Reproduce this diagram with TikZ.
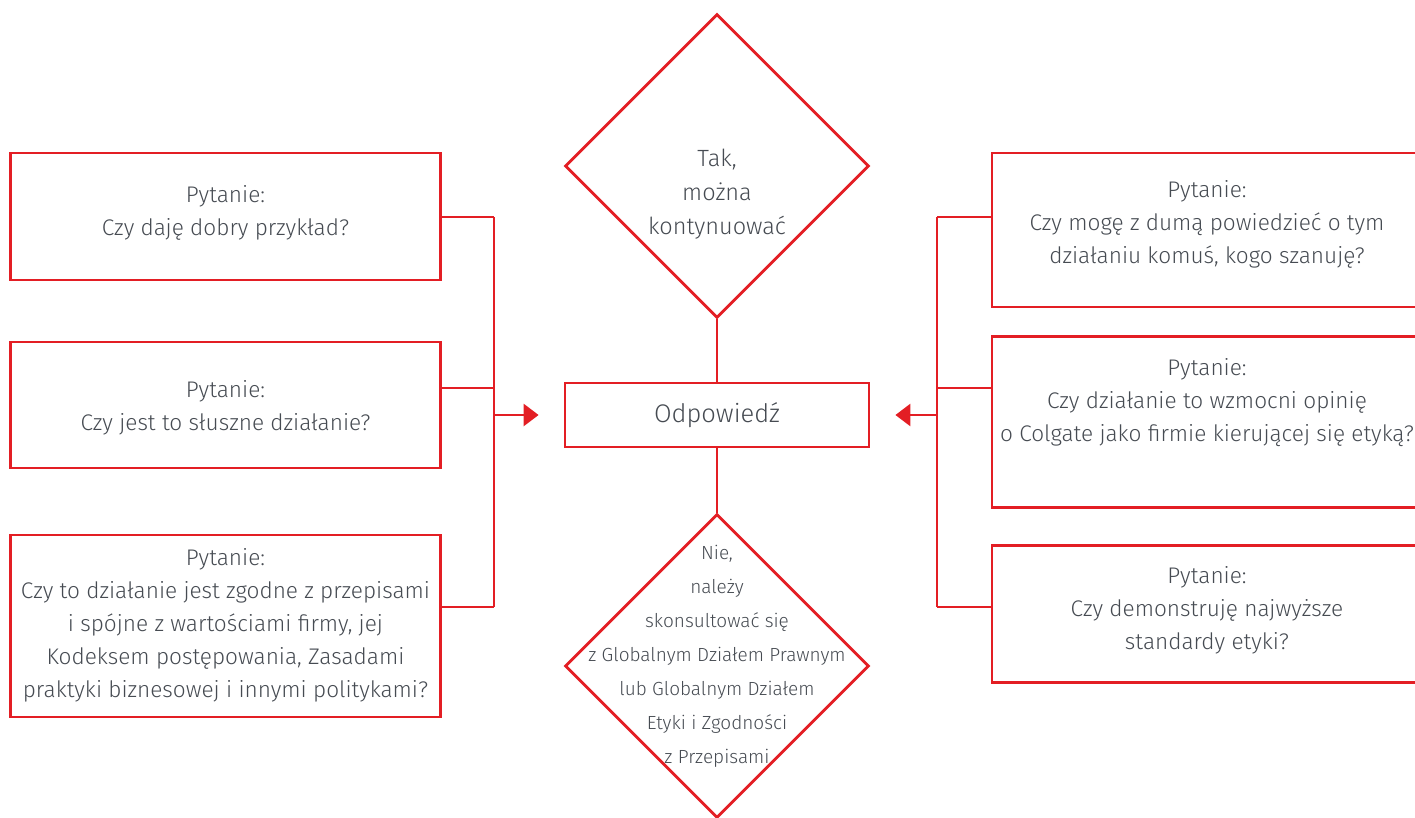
\documentclass[tikz,border=0pt]{standalone}
\usepackage{fontspec}
\setmainfont{Fira Sans}[UprightFont=* Light]
\usetikzlibrary{shapes.geometric,arrows.meta}
\definecolor{cred}{RGB}{227,30,36}
\definecolor{ctext}{RGB}{70,75,82}
\tikzset{
  qbox/.style={draw=cred,line width=2.8pt,minimum width=430pt,inner sep=0pt},
  qtext/.style={align=center,text=ctext,font=\fontsize{22.6}{33}\selectfont,inner sep=0pt},
  dbox/.style={draw=cred,line width=2.8pt,diamond,aspect=1,minimum width=304pt,minimum height=304pt,inner sep=0pt},
  link/.style={draw=cred,line width=2.8pt},
  arr/.style={draw=cred,line width=2.8pt,-{Triangle[length=15pt,width=22pt]}},
}
\begin{document}
\begin{tikzpicture}[x=1pt,y=-1pt]
\useasboundingbox (0,0) rectangle (1415,817);
\clip (0,0) rectangle (1415,817);
% left boxes
\node[qbox,minimum height=127pt] (L1) at (225.5,216.5) {};
\node[qtext] (t1) at (225.5,213) {Pytanie:\\Czy daję dobry przykład?};
\node[qbox,minimum height=126pt] (L2) at (225.5,405) {};
\node[qtext] (t2) at (225.5,408) {Pytanie:\\Czy jest to słuszne działanie?};
\node[qbox,minimum height=182pt] (L3) at (225.5,626) {};
\node[qtext] (t3) at (225.5,625) {Pytanie:\\Czy to działanie jest zgodne z przepisami\\i spójne z wartościami firmy, jej\\Kodeksem postępowania, Zasadami\\praktyki biznesowej i innymi politykami?};
% right boxes
\node[qbox,minimum height=154pt] (R1) at (1207,230) {};
\node[qtext] (u1) at (1207,224) {Pytanie:\\Czy mogę z dumą powiedzieć o tym\\działaniu komuś, kogo szanuję?};
\node[qbox,minimum height=171pt] (R2) at (1207,422) {};
\node[qtext] (u2) at (1207,403) {Pytanie:\\Czy działanie to wzmocni opinię\\o Colgate jako firmie kierującej się etyką?};
\node[qbox,minimum height=137pt] (R3) at (1207,614) {};
\node[qtext] (u3) at (1207,610) {Pytanie:\\Czy demonstruję najwyższe\\standardy etyki?};
% centre
\node[draw=cred,line width=2.8pt,minimum width=304pt,minimum height=64pt,inner sep=0pt,text=ctext,font=\fontsize{25.5}{28}\selectfont] (ans) at (717,415) {Odpowiedź};
\node[dbox] (yes) at (717,166) {};
\node[qtext,font=\fontsize{23.5}{34}\selectfont] (yt) at (717,194) {Tak,\\można\\kontynuować};
\node[dbox] (no) at (717,666) {};
\node[qtext,font=\fontsize{19}{34}\selectfont] (nt) at (717,656) {Nie,\\należy\\skonsultować się\\z Globalnym Działem Prawnym\\lub Globalnym Działem\\Etyki i Zgodności\\z Przepisami};
% connectors
\draw[link] (yes.south) -- (ans.north);
\draw[link] (ans.south) -- (no.north);
\coordinate (jl1) at (494,217);
\coordinate (jl2) at (494,388);
\coordinate (jl3) at (494,607);
\coordinate (jla) at (494,415);
\draw[link] (jl1) -- (jl3);
\draw[link] (L1.east |- jl1) -- (jl1);
\draw[link] (L2.east |- jl2) -- (jl2);
\draw[link] (L3.east |- jl3) -- (jl3);
\draw[arr] (jla) -- ([xshift=-25pt]ans.west);
\coordinate (jr1) at (937,217);
\coordinate (jr2) at (937,388);
\coordinate (jr3) at (937,607);
\coordinate (jra) at (937,415);
\draw[link] (jr1) -- (jr3);
\draw[link] (R1.west |- jr1) -- (jr1);
\draw[link] (R2.west |- jr2) -- (jr2);
\draw[link] (R3.west |- jr3) -- (jr3);
\draw[arr] (jra) -- ([xshift=25pt]ans.east);
\end{tikzpicture}
\end{document}
